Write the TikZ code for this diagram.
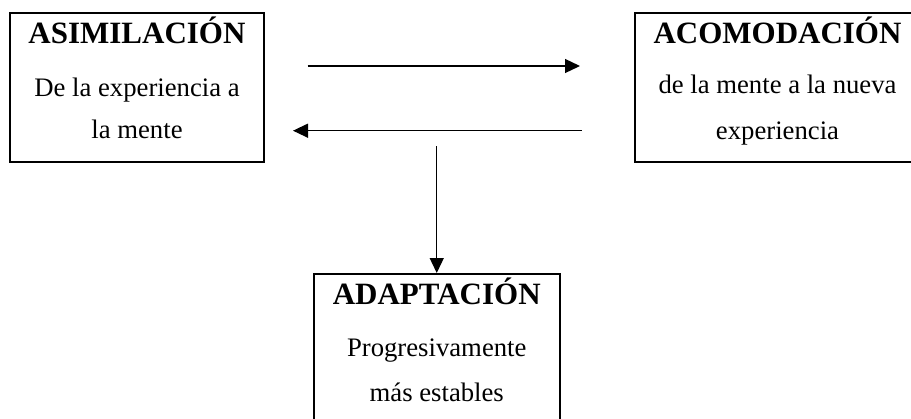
\documentclass[tikz,border=0pt]{standalone}
\usepackage{fontspec}
\setmainfont{Liberation Serif}
\usetikzlibrary{arrows.meta}
\begin{document}
\begin{tikzpicture}[x=1pt,y=-1pt,
  box/.style={draw=black,line width=2pt,fill=none,inner sep=0pt},
  head/.style={anchor=base,font=\fontsize{31}{31}\selectfont\bfseries,inner sep=0pt},
  body/.style={anchor=base,font=\fontsize{26.7}{26.7}\selectfont,inner sep=0pt},
  arr/.style={line width=1.3pt,-{Triangle[length=15pt,width=14pt]}}]
\useasboundingbox (0,0) rectangle (911,418);
\clip (0,0) rectangle (911,418);
% boxes
\node[box,minimum width=254pt,minimum height=149pt] (asim) at (137,87) {};
\node[box,minimum width=285pt,minimum height=149pt] (acom) at (777.5,87) {};
\node[box,minimum width=245.5pt,minimum height=149pt] (adap) at (436.75,348.5) {};
% texts
\node[head] (t1) at (137,43) {ASIMILACIÓN};
\node[body] (t2) at (137,96) {De la experiencia a};
\node[body] (t3) at (137,138) {la mente};
\node[head] (t4) at (777.5,43) {ACOMODACIÓN};
\node[body] (t5) at (777.5,93) {de la mente a la nueva};
\node[body] (t6) at (777.5,139) {experiencia};
\node[head] (t7) at (436.75,304) {ADAPTACIÓN};
\node[body] (t8) at (436.75,356) {Progresivamente};
\node[body] (t9) at (436.75,401.5) {más estables};
% connector ends
\coordinate (a1s) at (307.7,66);
\coordinate (a1e) at (580,66);
\coordinate (a2s) at (581.7,130.7);
\coordinate (a2e) at (293,130.7);
\coordinate (a3s) at (436.75,146);
\draw[arr] (a1s) -- (a1e);
\draw[arr] (a2s) -- (a2e);
\draw[arr] (a3s) -- (adap.north);
\end{tikzpicture}
\end{document}
